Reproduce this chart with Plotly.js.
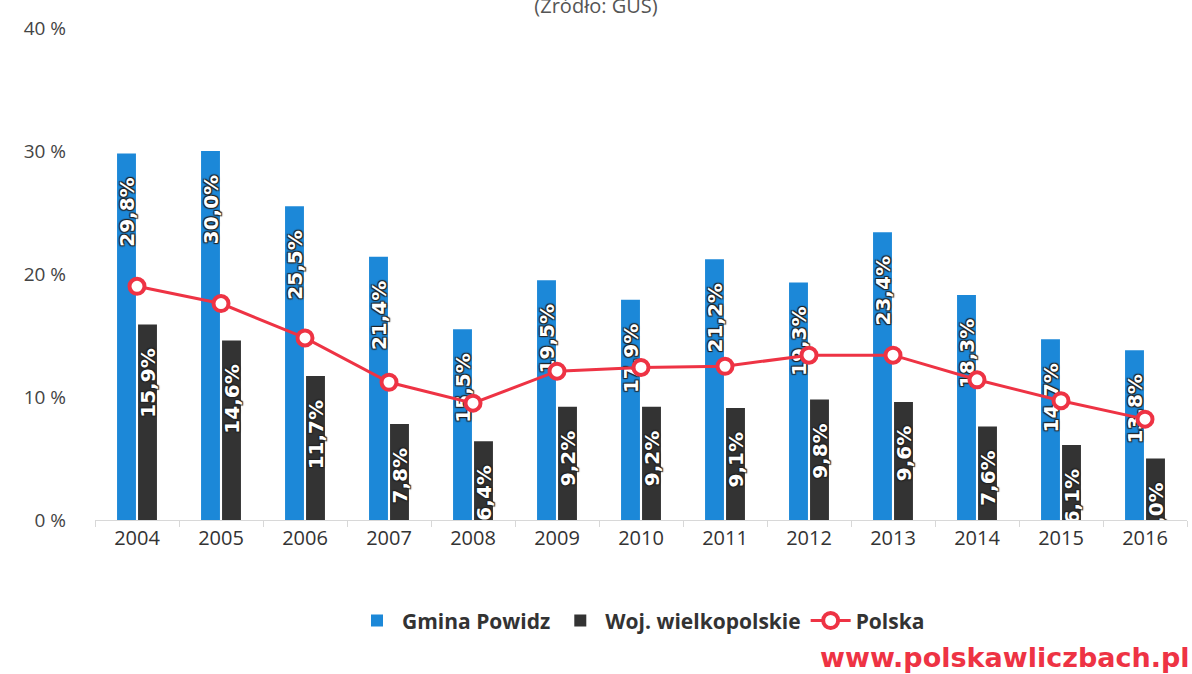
<!DOCTYPE html>
<html><head><meta charset="utf-8">
<script src="https://cdn.plot.ly/plotly-3.0.1.min.js"></script>
<style>body{margin:0;background:#fff}#c{width:1192px;height:674px}</style>
</head><body><div id="c"></div>
<script>
const years = ['2004','2005','2006','2007','2008','2009','2010','2011','2012','2013','2014','2015','2016'];
const gmina = [29.8,30.0,25.5,21.4,15.5,19.5,17.9,21.2,19.3,23.4,18.3,14.7,13.8];
const woj = [15.9,14.6,11.7,7.8,6.4,9.2,9.2,9.1,9.8,9.6,7.6,6.1,5.0];
const polska = [19.0,17.6,14.8,11.2,9.5,12.1,12.4,12.5,13.4,13.4,11.4,9.7,8.2];
const yTicks = [0,10,20,30,40];
const yTickText = yTicks.map(v => v + ' %');

const labelFont = {family:'DejaVu Sans, sans-serif', size:20, color:'#ffffff', weight:'bold',
  shadow:'1px 1px 1px #222, -1px -1px 1px #222, 1px -1px 1px #222, -1px 1px 1px #222'};
const pad = '\u00a0\u00a0\u00a0';
const traces = [
 {type:'bar', name:'Gmina Powidz', x:years, y:gmina, marker:{color:'#1c88d8'},
  texttemplate:'%{y:.1f}%' + pad, textposition:'inside', insidetextanchor:'end', textangle:-90,
  constraintext:'none', textfont:labelFont, hoverinfo:'none'},
 {type:'bar', name:'Woj. wielkopolskie', x:years, y:woj, marker:{color:'#333333'},
  texttemplate:'%{y:.1f}%' + pad, textposition:'inside', insidetextanchor:'end', textangle:-90,
  constraintext:'none', textfont:labelFont, hoverinfo:'none'},
 {type:'scatter', mode:'lines+markers', name:'Polska', x:years, y:polska,
  line:{color:'#ee3344', width:3},
  marker:{size:15, color:'#ffffff', line:{color:'#ee3344', width:4}}, hoverinfo:'none'}
];
const layout = {
 width:1192, height:674, paper_bgcolor:'#fff', plot_bgcolor:'#fff',
 margin:{l:95, r:5, t:28, b:154, autoexpand:false},
 separators:',.',
 barmode:'group', bargap:0.5, bargroupgap:0.1,
 font:{family:'Open Sans, sans-serif', color:'#444'},
 title:{text:'(Źródło: GUS)', x:0.5, xanchor:'center', y:0.991, yanchor:'middle', font:{size:20, color:'#555'}},
 xaxis:{type:'category', range:[-0.5,12.5], showline:true, linecolor:'#d8d8d8', linewidth:1, ticks:'outside', tickcolor:'#d8d8d8',
  ticklen:6, tickson:'boundaries', tickfont:{size:20, color:'#333'}, showgrid:false, fixedrange:true, automargin:false},
 yaxis:{range:[0,40], tickmode:'array', tickvals:yTicks, ticktext:yTickText, showgrid:false, zeroline:false,
  tickfont:{size:19, color:'#444'}, ticklabelstandoff:28, fixedrange:true, automargin:false},
 legend:{orientation:'h', x:0.5, xanchor:'center', y:-0.205, yanchor:'middle',
  font:{size:21, color:'#333', weight:'bold', family:'Open Sans, sans-serif'}, itemwidth:40, traceorder:'normal'},
 annotations:[{text:'www.polskawliczbach.pl', xref:'paper', yref:'paper', x:1.005, y:-0.28, xanchor:'right', yanchor:'middle',
  showarrow:false, font:{size:27, color:'#ee3344', weight:'bold', family:'DejaVu Sans, sans-serif'}}]
};
Plotly.newPlot('c', traces, layout, {displayModeBar:false, staticPlot:true});
</script></body></html>
